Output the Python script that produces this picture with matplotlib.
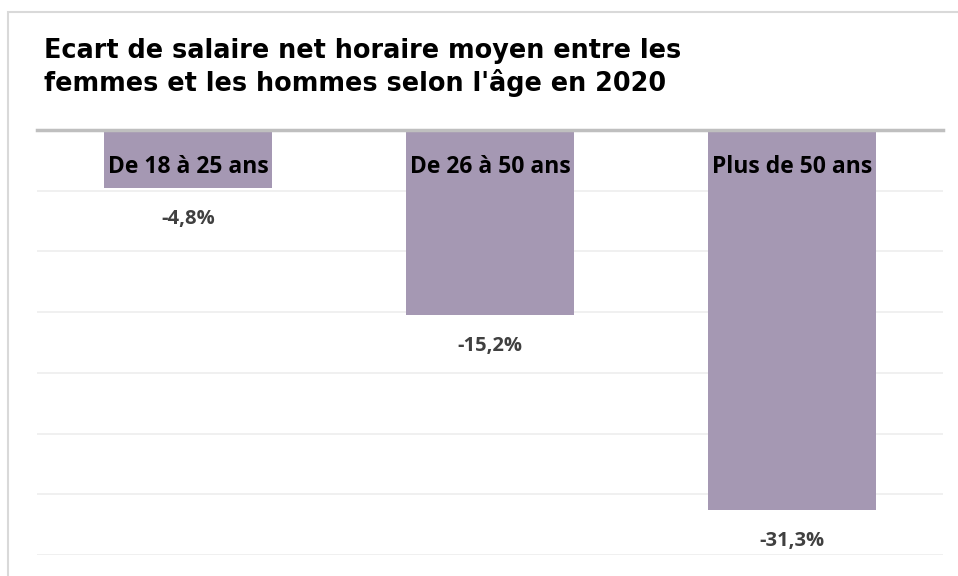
import matplotlib.pyplot as plt
from matplotlib.patches import Rectangle

# Données
categories = ["De 18 à 25 ans", "De 26 à 50 ans", "Plus de 50 ans"]
ecarts = [-4.8, -15.2, -31.3]
value_labels = ["-4,8%", "-15,2%", "-31,3%"]
title_lines = ["Ecart de salaire net horaire moyen entre les",
               "femmes et les hommes selon l'âge en 2020"]

W, H = 958, 576
fig = plt.figure(figsize=(W / 100, H / 100), dpi=100)

# cadre extérieur gris clair
fig.patches.append(Rectangle((8 / W, -0.01), 1.2, 1 - 12 / H + 0.01, transform=fig.transFigure,
                             fill=False, edgecolor="#D9D9D9", linewidth=1.5))

ax = fig.add_axes([37 / W, 1 - 555 / H, 906 / W, 425 / H])
x = range(len(categories))
ax.bar(x, ecarts, width=0.556, color="#A598B3", zorder=2)

ax.set_xlim(-0.5, len(categories) - 0.5)
ax.set_ylim(-35, 0)
ax.set_yticks([-5, -10, -15, -20, -25, -30, -35])
ax.set_yticklabels([])
ax.set_xticks([])
ax.tick_params(left=False, length=0)
ax.grid(axis="y", color="#EDEDED", linewidth=1.2, zorder=0)

for side in ["left", "right", "bottom"]:
    ax.spines[side].set_visible(False)
ax.spines["top"].set_color("#BFBFBF")
ax.spines["top"].set_linewidth(2.5)
ax.spines["top"].set_zorder(3)

for i, (cat, v, lab) in enumerate(zip(categories, ecarts, value_labels)):
    ax.annotate(cat, (i, 0), xytext=(0, -43), textcoords="offset pixels",
                ha="center", va="baseline", fontsize=16.5, fontweight="bold",
                family="Open Sans", color="black", zorder=4)
    ax.annotate(lab, (i, v), xytext=(0, -36), textcoords="offset pixels",
                ha="center", va="baseline", fontsize=14.5, fontweight="bold",
                family="Open Sans", color="#404040")

for line, base in zip(title_lines, [58, 91]):
    fig.text(44 / W, 1 - base / H, line, ha="left", va="baseline", fontsize=18.4,
             fontweight="bold", family="DejaVu Sans", color="black")

fig.savefig("out.png", dpi=100)
